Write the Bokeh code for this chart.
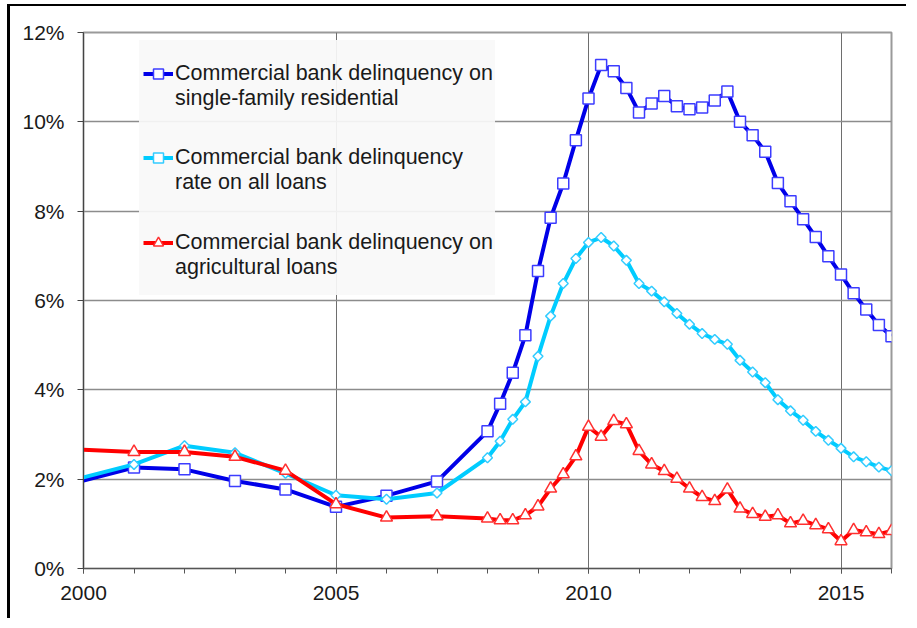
from bokeh.plotting import figure
from bokeh.models import (Range1d, FixedTicker, PrintfTickFormatter, Legend, LegendItem)
from bokeh.embed import file_html
from bokeh.resources import INLINE

# ---- data (percent) ----
years = [2000, 2001, 2002, 2003, 2004, 2005, 2006, 2007,
         2008.0, 2008.25, 2008.5, 2008.75, 2009.0, 2009.25, 2009.5, 2009.75,
         2010.0, 2010.25, 2010.5, 2010.75, 2011.0, 2011.25, 2011.5, 2011.75,
         2012.0, 2012.25, 2012.5, 2012.75, 2013.0, 2013.25, 2013.5, 2013.75,
         2014.0, 2014.25, 2014.5, 2014.75, 2015.0, 2015.25, 2015.5, 2015.75,
         2016.0]

residential = [1.97, 2.26, 2.22, 1.96, 1.77, 1.38, 1.63, 1.95,
               3.07, 3.69, 4.38, 5.22, 6.66, 7.85, 8.62, 9.59,
               10.52, 11.27, 11.13, 10.76, 10.21, 10.41, 10.58, 10.35,
               10.28, 10.32, 10.48, 10.68, 10.00, 9.70, 9.33, 8.63,
               8.22, 7.82, 7.42, 6.99, 6.58, 6.16, 5.80, 5.45,
               5.20]

all_loans = [2.04, 2.33, 2.75, 2.59, 2.13, 1.64, 1.55, 1.69,
             2.48, 2.85, 3.34, 3.73, 4.75, 5.65, 6.38, 6.94,
             7.30, 7.41, 7.22, 6.90, 6.38, 6.21, 5.97, 5.71,
             5.47, 5.26, 5.13, 5.02, 4.66, 4.40, 4.16, 3.78,
             3.53, 3.32, 3.07, 2.87, 2.69, 2.50, 2.39, 2.27,
             2.19]

agricultural = [2.66, 2.61, 2.61, 2.50, 2.19, 1.44, 1.14, 1.17,
                1.12, 1.08, 1.08, 1.19, 1.39, 1.79, 2.11, 2.51,
                3.17, 2.95, 3.30, 3.23, 2.63, 2.33, 2.18, 2.01,
                1.79, 1.60, 1.51, 1.77, 1.34, 1.22, 1.16, 1.19,
                1.01, 1.07, 0.97, 0.88, 0.61, 0.86, 0.81, 0.77,
                0.84]

y_ticks = [0, 2, 4, 6, 8, 10, 12]
x_major = [2000, 2005, 2010, 2015]
x_minor = [2000, 2001, 2002, 2003, 2004, 2005, 2006, 2007, 2008,
           2009, 2010, 2011, 2012, 2013, 2014, 2015, 2016]

labels = [("Commercial bank delinquency on", "single-family residential"),
          ("Commercial bank delinquency", "rate on all loans"),
          ("Commercial bank delinquency on", "agricultural loans")]

FONT = "Liberation Sans"

p = figure(width=899, height=614,
           x_range=Range1d(2000, 2016), y_range=Range1d(0, 12),
           output_backend="svg", toolbar_location=None,
           min_border_left=73, min_border_right=18,
           min_border_top=26, min_border_bottom=52)
p.styles = {"margin-left": "10px", "margin-top": "6px",
            "box-shadow": "-3px -2px 0px 0px black"}
p.background_fill_color = "white"
p.border_fill_color = "white"
p.outline_line_color = "#9a9a9a"
p.outline_line_width = 2

# axes
p.yaxis.ticker = FixedTicker(ticks=y_ticks)
p.yaxis.formatter = PrintfTickFormatter(format="%d%%")
p.yaxis.major_tick_out = 6
p.yaxis.major_tick_in = 0
p.yaxis.minor_tick_out = 0
p.yaxis.axis_line_color = "#444444"
p.yaxis.major_tick_line_color = "#444444"
p.yaxis.major_label_standoff = 13
p.xaxis.ticker = FixedTicker(ticks=x_major, minor_ticks=x_minor)
p.xaxis.major_tick_out = 5
p.xaxis.major_tick_in = 0
p.xaxis.minor_tick_out = 5
p.xaxis.minor_tick_in = 0
p.xaxis.axis_line_color = "#555555"
p.xaxis.major_tick_line_color = "#555555"
p.xaxis.minor_tick_line_color = "#555555"
p.xaxis.major_label_standoff = 12
for ax in (p.xaxis, p.yaxis):
    ax.major_label_text_font = FONT
    ax.major_label_text_font_size = "21px"
    ax.major_label_text_color = "#1a1a1a"

p.ygrid.grid_line_color = "#8c8c8c"
p.ygrid.grid_line_width = 1.5
p.xgrid.grid_line_color = "#6e6e6e"
p.xgrid.grid_line_width = 1

# series
r1l = p.line(years, residential, line_color="#0000E8", line_width=4)
r1m = p.scatter(years[1:], residential[1:], marker="square", size=11,
                fill_color="white", line_color="#3c3cff", line_width=1.5)
r2l = p.line(years, all_loans, line_color="#00CCFF", line_width=4)
r2m = p.scatter(years[1:], all_loans[1:], marker="square", angle=0.7854, size=7,
                fill_color="white", line_color="#33CCFF", line_width=1.5)
r3l = p.line(years, agricultural, line_color="#FF0000", line_width=4)
r3m = p.scatter(years[1:], agricultural[1:], marker="triangle", size=12,
                fill_color="white", line_color="#FF3030", line_width=1.5)

# light background panel behind the legend entries
bg = Legend(items=[LegendItem(label=" ", renderers=[])],
            location=(56, 273), glyph_width=1, glyph_height=255,
            label_height=255, label_width=355, label_standoff=0,
            padding=0, margin=0, spacing=0,
            background_fill_color="#f8f8f8", background_fill_alpha=0.92,
            border_line_color=None)
p.add_layout(bg)

renderers = [[r1l, r1m], [r2l, r2m], [r3l, r3m]]
ys = [457, 373, 288]
for (l1, l2), rs, yy in zip(labels, renderers, ys):
    lg = Legend(items=[LegendItem(label=l1, renderers=rs),
                       LegendItem(label=l2, renderers=[])],
                location=(60, yy), orientation="vertical",
                glyph_width=30, glyph_height=25, label_height=25,
                label_standoff=2, spacing=0, padding=0, margin=0,
                background_fill_alpha=0, border_line_color=None,
                label_text_font=FONT, label_text_font_size="21.5px",
                label_text_color="#1a1a1a")
    p.add_layout(lg)

open("out.html", "w").write(file_html(p, INLINE))
